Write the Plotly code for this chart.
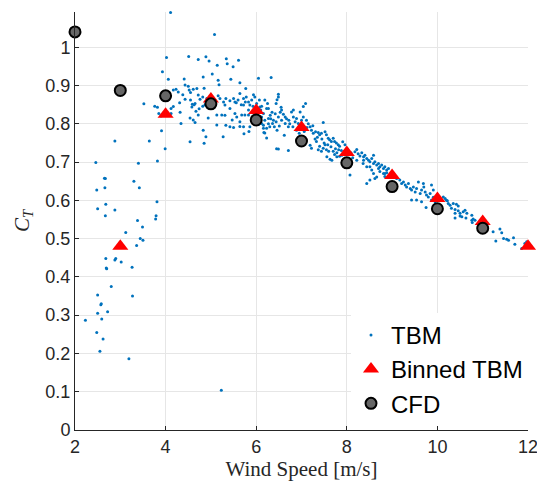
import plotly.graph_objects as go

# Thrust coefficient vs. wind speed: turbine blade model samples, binned means and CFD

# TBM samples, start-up region (2-4 m/s)
tbm_startup = [
    (2.23, 0.287), (2.46, 0.699), (2.48, 0.627), (2.48, 0.255), (2.50, 0.578),
    (2.50, 0.353), (2.50, 0.305), (2.55, 0.206), (2.57, 0.327), (2.58, 0.330),
    (2.59, 0.290), (2.62, 0.238), (2.65, 0.658), (2.67, 0.657), (2.66, 0.633),
    (2.68, 0.590), (2.67, 0.560), (2.68, 0.448), (2.69, 0.423), (2.70, 0.421),
    (2.72, 0.309), (2.80, 0.375), (2.88, 0.755), (2.88, 0.575), (2.88, 0.444),
    (2.90, 0.448), (3.02, 0.439), (3.12, 0.516), (3.19, 0.186), (3.26, 0.425),
    (3.27, 0.350), (3.30, 0.650), (3.36, 0.482), (3.38, 0.547), (3.40, 0.697),
    (3.42, 0.633), (3.44, 0.500), (3.49, 0.530), (3.50, 0.496), (3.52, 0.852),
    (3.64, 0.755), (3.76, 0.846), (3.79, 0.560), (3.78, 0.551), (3.81, 0.596),
    (3.82, 0.703), (3.82, 0.843), (3.85, 0.827), (3.90, 0.820), (3.91, 0.782),
    (3.93, 0.936), (3.99, 0.735), (5.23, 0.104),
]

# TBM samples, 4-6 m/s
tbm_peak = [
    (4.02, 0.973), (4.06, 0.916), (4.11, 1.091), (4.12, 0.840), (4.12, 0.827),
    (4.17, 0.845), (4.17, 0.888), (4.23, 0.890), (4.28, 0.883), (4.31, 0.855),
    (4.32, 0.830), (4.34, 0.801), (4.38, 0.876), (4.41, 0.917), (4.43, 0.864),
    (4.43, 0.901), (4.50, 0.898), (4.52, 0.888), (4.54, 0.753), (4.54, 0.815),
    (4.55, 0.862), (4.55, 0.882), (4.51, 0.976), (4.58, 0.844), (4.59, 0.851),
    (4.61, 0.890), (4.61, 0.810), (4.63, 0.850), (4.65, 0.853), (4.65, 0.803),
    (4.67, 0.833), (4.69, 0.892), (4.72, 0.968), (4.72, 0.875), (4.72, 0.823),
    (4.74, 0.839), (4.76, 0.864), (4.82, 0.870), (4.82, 0.846), (4.83, 0.922),
    (4.83, 0.783), (4.85, 0.749), (4.85, 0.893), (4.87, 0.850), (4.89, 0.975),
    (4.89, 0.766), (4.91, 0.866), (4.94, 0.815), (4.96, 0.964), (5.03, 0.930),
    (5.08, 1.033), (5.09, 0.862), (5.13, 0.797), (5.13, 0.823), (5.14, 0.953),
    (5.16, 0.914), (5.16, 0.873), (5.18, 0.902), (5.20, 0.866), (5.24, 0.823),
    (5.27, 0.766), (5.28, 0.857), (5.31, 0.849), (5.31, 0.822), (5.33, 0.866),
    (5.33, 0.796), (5.34, 0.970), (5.36, 0.957), (5.42, 0.860), (5.42, 0.840),
    (5.42, 0.792), (5.44, 0.916), (5.47, 0.810), (5.49, 0.949), (5.50, 0.866),
    (5.50, 0.790), (5.53, 0.827), (5.53, 0.857), (5.56, 0.855), (5.57, 0.818),
    (5.60, 0.862), (5.61, 0.966), (5.64, 0.907), (5.64, 0.879), (5.64, 0.793),
    (5.64, 0.805), (5.67, 0.850), (5.68, 0.823), (5.72, 0.866), (5.72, 0.849),
    (5.72, 0.792), (5.73, 0.774), (5.75, 0.823), (5.76, 0.857), (5.77, 0.892),
    (5.78, 0.870), (5.83, 0.836), (5.83, 0.857), (5.83, 0.823), (5.84, 0.780),
    (5.86, 0.849), (5.86, 0.792), (5.90, 0.862), (5.93, 0.846), (5.94, 0.876),
    (5.97, 0.870),
]

# TBM samples, 6-8 m/s
tbm_mid = [
    (5.92, 0.809), (5.97, 0.827), (6.01, 0.853), (6.01, 0.814), (6.05, 0.919),
    (6.05, 0.831), (6.05, 0.798), (6.07, 0.862), (6.08, 0.844), (6.08, 0.805),
    (6.10, 0.836), (6.12, 0.846), (6.12, 0.818), (6.12, 0.801), (6.16, 0.827),
    (6.16, 0.796), (6.16, 0.788), (6.17, 0.777), (6.19, 0.862), (6.19, 0.809),
    (6.19, 0.776), (6.23, 0.840), (6.23, 0.788), (6.23, 0.763), (6.25, 0.853),
    (6.27, 0.840), (6.27, 0.814), (6.27, 0.800), (6.30, 0.792), (6.31, 0.822),
    (6.32, 0.813), (6.33, 0.921), (6.35, 0.830), (6.36, 0.801), (6.38, 0.809),
    (6.40, 0.792), (6.42, 0.826), (6.44, 0.853), (6.44, 0.805), (6.45, 0.735),
    (6.46, 0.783), (6.46, 0.863), (6.49, 0.877), (6.49, 0.870), (6.49, 0.818),
    (6.49, 0.734), (6.51, 0.794), (6.53, 0.830), (6.55, 0.843), (6.56, 0.836),
    (6.56, 0.809), (6.60, 0.825), (6.62, 0.770), (6.64, 0.818), (6.64, 0.801),
    (6.67, 0.813), (6.71, 0.792), (6.71, 0.730), (6.72, 0.809), (6.74, 0.800),
    (6.78, 0.831), (6.81, 0.792), (6.82, 0.836), (6.82, 0.818), (6.86, 0.805),
    (6.89, 0.814), (6.89, 0.783), (6.93, 0.801), (6.95, 0.775), (6.97, 0.831),
    (6.97, 0.790), (7.00, 0.809), (7.04, 0.845), (7.04, 0.818), (7.06, 0.780),
    (7.09, 0.853), (7.11, 0.809), (7.12, 0.790), (7.15, 0.800), (7.19, 0.792),
    (7.19, 0.744), (7.22, 0.783), (7.22, 0.736), (7.25, 0.795), (7.26, 0.775),
    (7.30, 0.760), (7.31, 0.779), (7.33, 0.754), (7.35, 0.765), (7.37, 0.777),
    (7.37, 0.732), (7.40, 0.771), (7.40, 0.741), (7.44, 0.775), (7.44, 0.728),
    (7.45, 0.760), (7.48, 0.803), (7.48, 0.736), (7.50, 0.750), (7.52, 0.779),
    (7.52, 0.745), (7.55, 0.771), (7.55, 0.732), (7.56, 0.714), (7.58, 0.745),
    (7.59, 0.762), (7.60, 0.728), (7.62, 0.758), (7.63, 0.707), (7.65, 0.740),
    (7.66, 0.754), (7.67, 0.705), (7.70, 0.762), (7.70, 0.728), (7.73, 0.754),
    (7.73, 0.720), (7.75, 0.735), (7.77, 0.750), (7.78, 0.724), (7.78, 0.714),
    (7.81, 0.745), (7.82, 0.732), (7.84, 0.741), (7.84, 0.715), (7.88, 0.730),
    (7.89, 0.718), (7.91, 0.753), (7.95, 0.728), (7.96, 0.745),
]

# TBM samples, 8-10 m/s
tbm_high = [
    (8.07, 0.666), (8.09, 0.724), (8.13, 0.711), (8.18, 0.727), (8.22, 0.733),
    (8.22, 0.705), (8.25, 0.722), (8.29, 0.716), (8.33, 0.724), (8.36, 0.696),
    (8.37, 0.714), (8.37, 0.705), (8.40, 0.718), (8.44, 0.709), (8.44, 0.688),
    (8.44, 0.644), (8.48, 0.705), (8.51, 0.701), (8.51, 0.688), (8.51, 0.653),
    (8.55, 0.709), (8.55, 0.679), (8.59, 0.718), (8.59, 0.696), (8.59, 0.670),
    (8.62, 0.701), (8.62, 0.657), (8.66, 0.692), (8.66, 0.661), (8.70, 0.696),
    (8.70, 0.683), (8.73, 0.688), (8.73, 0.675), (8.77, 0.692), (8.81, 0.683),
    (8.81, 0.670), (8.84, 0.688), (8.84, 0.670), (8.84, 0.662), (8.88, 0.679),
    (8.88, 0.672), (8.92, 0.683), (8.95, 0.666), (9.10, 0.657), (9.17, 0.653),
    (9.21, 0.644), (9.25, 0.648), (9.29, 0.640), (9.32, 0.635), (9.36, 0.644),
    (9.40, 0.631), (9.43, 0.627), (9.43, 0.601), (9.47, 0.635), (9.51, 0.622),
    (9.54, 0.631), (9.54, 0.601), (9.58, 0.648), (9.62, 0.618), (9.65, 0.627),
    (9.65, 0.596), (9.69, 0.644), (9.70, 0.635), (9.73, 0.622), (9.75, 0.581),
    (9.76, 0.614), (9.80, 0.609), (9.84, 0.618), (9.87, 0.601), (9.87, 0.640),
    (9.91, 0.608), (9.91, 0.627), (9.95, 0.596),
]

# TBM samples, 10-12 m/s
tbm_rated = [
    (10.13, 0.609), (10.17, 0.605), (10.20, 0.600), (10.22, 0.599), (10.24, 0.592),
    (10.28, 0.587), (10.31, 0.579), (10.35, 0.592), (10.39, 0.576), (10.39, 0.566),
    (10.39, 0.554), (10.42, 0.590), (10.46, 0.585), (10.46, 0.573), (10.50, 0.566),
    (10.50, 0.559), (10.54, 0.557), (10.57, 0.570), (10.61, 0.574), (10.63, 0.554),
    (10.65, 0.566), (10.76, 0.561), (10.76, 0.548), (10.77, 0.542), (10.79, 0.551),
    (10.83, 0.548), (11.23, 0.518), (11.29, 0.494), (11.38, 0.525), (11.42, 0.515),
    (11.46, 0.500), (11.53, 0.498), (11.57, 0.496), (11.68, 0.502), (11.71, 0.485),
    (11.86, 0.474), (11.93, 0.487), (11.97, 0.492),
]

# Binned TBM means
bin_speed = [3, 4, 5, 6, 7, 8, 9, 10, 11, 12]
bin_ct = [0.480, 0.825, 0.865, 0.835, 0.790, 0.725, 0.665, 0.605, 0.545, 0.480]

# CFD results
cfd_speed = [2, 3, 4, 5, 6, 7, 8, 9, 10, 11]
cfd_ct = [1.040, 0.887, 0.873, 0.852, 0.810, 0.755, 0.698, 0.636, 0.578, 0.527]

# Axis ticks
x_ticks = [2, 4, 6, 8, 10, 12]
y_ticks = [0, 0.1, 0.2, 0.3, 0.4, 0.5, 0.6, 0.7, 0.8, 0.9, 1]
y_tick_labels = ["0", "0.1", "0.2", "0.3", "0.4", "0.5", "0.6", "0.7", "0.8", "0.9", "1"]

tbm_all = tbm_startup + tbm_peak + tbm_mid + tbm_high + tbm_rated
tbm_speed = [p[0] for p in tbm_all]
tbm_ct = [p[1] for p in tbm_all]

fig = go.Figure()
fig.add_trace(go.Scatter(
    x=tbm_speed, y=tbm_ct, mode="markers", name="TBM",
    marker=dict(color="#0072BD", size=3, line=dict(width=0)),
    cliponaxis=False,
))
fig.add_trace(go.Scatter(
    x=bin_speed, y=bin_ct, mode="markers", name="Binned TBM",
    marker=dict(symbol="triangle-up", color="#FF0000", size=14, line=dict(width=0)),
    cliponaxis=False,
))
fig.add_trace(go.Scatter(
    x=cfd_speed, y=cfd_ct, mode="markers", name="CFD",
    marker=dict(symbol="circle", color="#666666", size=11,
                line=dict(color="#000000", width=2)),
    cliponaxis=False,
))

axis_common = dict(
    showgrid=True, gridcolor="#e6e6e6", gridwidth=1,
    showline=True, linecolor="#262626", linewidth=1,
    ticks="inside", ticklen=4, tickcolor="#262626",
    tickfont=dict(family="Liberation Sans, Arial, sans-serif", size=18, color="#262626"),
    zeroline=False, mirror=False, ticklabeloverflow="allow", automargin=False,
)

fig.update_xaxes(
    range=[2, 12], tickvals=x_ticks, ticktext=[str(t) for t in x_ticks],
    title=dict(text="Wind Speed [m/s]", standoff=4,
               font=dict(family="Liberation Serif, Times New Roman, serif", size=21, color="#262626")),
    **axis_common,
)
fig.update_yaxes(
    range=[0, 1.092], tickvals=y_ticks, ticktext=y_tick_labels,
    title=dict(text="<i>C</i><sub><i>T</i></sub>", standoff=10,
               font=dict(family="Liberation Serif, Times New Roman, serif", size=21, color="#262626")),
    **axis_common,
)

fig.update_layout(
    width=537, height=483,
    margin=dict(l=75, r=9, t=12, b=53),
    plot_bgcolor="white", paper_bgcolor="white",
    showlegend=True,
    legend=dict(
        x=1.0, xanchor="right", y=0.01, yanchor="bottom",
        bgcolor="white", borderwidth=0, tracegroupgap=0,
        font=dict(family="Liberation Sans, Arial, sans-serif", size=24, color="#000000"),
    ),
)

fig.write_html("out.html")
